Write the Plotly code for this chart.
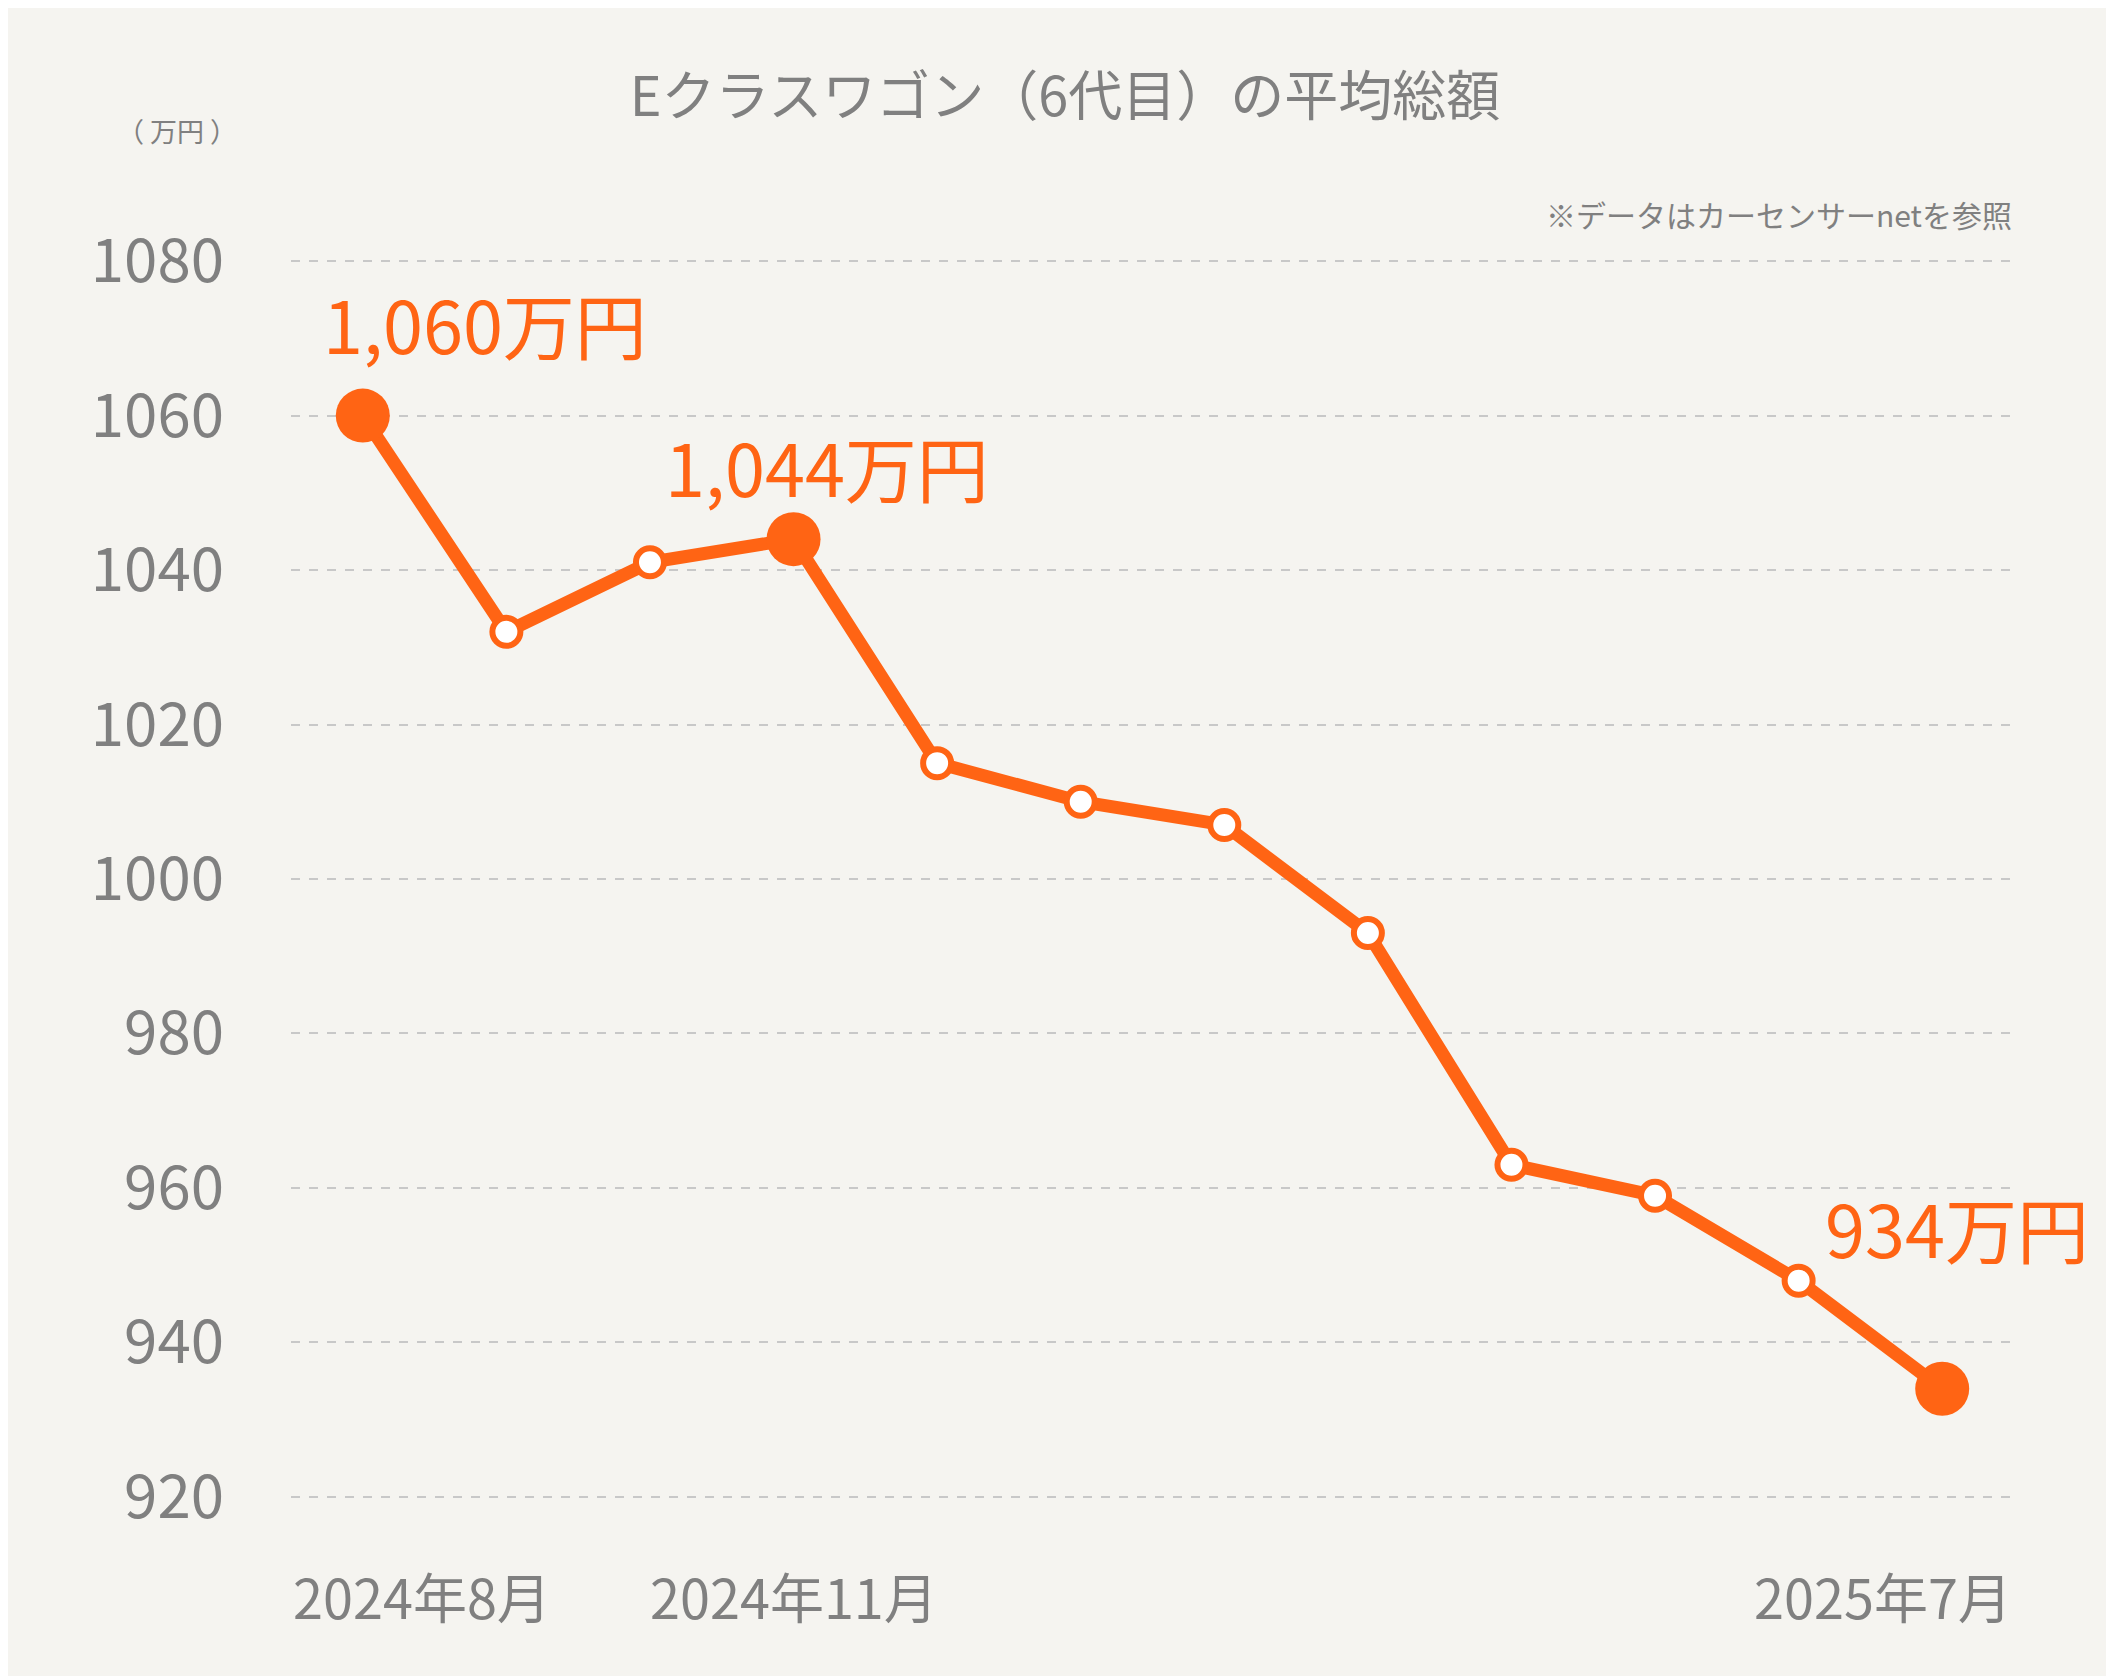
import plotly.graph_objects as go

months = ["2024年8月","2024年9月","2024年10月","2024年11月","2024年12月","2025年1月",
          "2025年2月","2025年3月","2025年4月","2025年5月","2025年6月","2025年7月"]
values = [1060, 1032, 1041, 1044, 1015, 1010, 1007, 993, 963, 959, 948, 934]
highlight = [0, 3, 11]
label_texts = ["1,060万円", "1,044万円", "934万円"]
label_pos = [(0.85, 1072), (3.23, 1053.5), (11.1, 955)]
xlabel_idx = [0, 3, 11]

ORANGE = "#FF6414"
GRAY = "#808080"
BG = "#F5F4F0"
FONT = "Noto Sans CJK JP"

x = list(range(len(values)))
fig = go.Figure()
fig.add_trace(go.Scatter(x=x, y=values, mode="lines+markers",
    line=dict(color=ORANGE, width=13),
    marker=dict(size=28, color="white", line=dict(color=ORANGE, width=6)),
    cliponaxis=False, hoverinfo="skip"))
fig.add_trace(go.Scatter(x=[x[i] for i in highlight], y=[values[i] for i in highlight],
    mode="markers", marker=dict(size=54, color=ORANGE), cliponaxis=False, hoverinfo="skip"))

for t, (px, py) in zip(label_texts, label_pos):
    fig.add_annotation(x=px, y=py, text=t, showarrow=False,
                       font=dict(family=FONT, size=72, color=ORANGE))

anchors = ["left", "center", "right"]
xs = [-0.5, 3, 11.5]
for i, a, xx in zip(xlabel_idx, anchors, xs):
    fig.add_annotation(x=xx, y=0, yref="paper", yshift=-95, xanchor=a, yanchor="middle",
                       text=months[i], showarrow=False,
                       font=dict(family=FONT, size=54, color=GRAY))

fig.add_annotation(x=1, xref="paper", y=1.055, yref="paper", xanchor="right", text="※データはカーセンサーnetを参照",
                   showarrow=False, font=dict(family=FONT, size=30, color=GRAY))
fig.add_annotation(x=-0.03, xref="paper", y=1.12, yref="paper", xanchor="right", text="（ 万円 ）",
                   showarrow=False, font=dict(family=FONT, size=27, color=GRAY))

fig.update_layout(
    width=2114, height=1676, paper_bgcolor=BG, plot_bgcolor=BG,
    margin=dict(l=283, r=108, t=250, b=184),
    showlegend=False,
    title=dict(text="Eクラスワゴン（6代目）の平均総額", x=0.5, xanchor="center", y=0.958,
               font=dict(family=FONT, size=54, color=GRAY)),
    xaxis=dict(range=[-0.5, 11.5], showticklabels=False, showgrid=False, zeroline=False, showline=False),
    yaxis=dict(range=[919.6, 1080.4], dtick=20, tick0=920, showgrid=True, gridcolor="#C8C8C8",
               griddash="dash", gridwidth=2, zeroline=False, showline=False,
               tickfont=dict(family=FONT, size=60, color=GRAY), ticklabelstandoff=66),
)
fig.write_html("out.html")
